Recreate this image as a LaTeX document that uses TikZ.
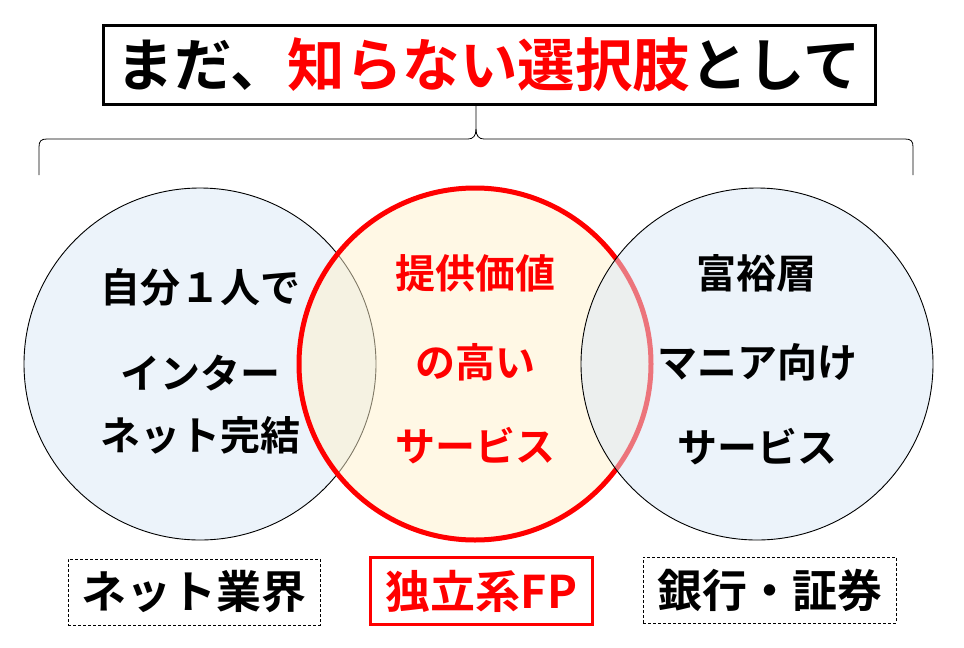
\documentclass[tikz,border=0pt]{standalone}
\usepackage{fontspec}
\newfontfamily\jp{Noto Sans CJK JP}[BoldFont={Noto Sans CJK JP Bold}]
\definecolor{myred}{HTML}{FF0000}
\definecolor{blueF}{HTML}{DAE8F7}
\definecolor{yelF}{HTML}{FFF2CC}
\begin{document}
\begin{tikzpicture}[x=1pt,y=-1pt,
  every node/.style={inner sep=0pt,outer sep=0pt},
  circtxt/.style={font=\jp\bfseries\fontsize{40}{48}\selectfont,anchor=center},
  labtxt/.style={font=\jp\bfseries\fontsize{45}{54}\selectfont,anchor=center,minimum height=66pt},
  dashbox/.style={labtxt,draw=black,line width=0.8pt,dash pattern=on 3pt off 2pt},
  sidecirc/.style={circle,minimum size=352pt,fill=blueF,fill opacity=0.5,draw=black,draw opacity=1,line width=0.9pt},
  midcirc/.style={circle,minimum size=352pt,fill=yelF,fill opacity=0.5,draw=myred,draw opacity=1,line width=5pt},
  bracestyle/.style={draw=black,line width=0.8pt}]
\useasboundingbox (0,0) rectangle (964,648);
\fill[white] (0,0) rectangle (964,648);
% title
\node[draw=black,line width=3pt,minimum width=772pt,minimum height=79pt,
  font=\jp\bfseries\fontsize{57.5}{64}\selectfont] (title) at (489,64.5)
  {まだ、\textcolor{myred}{知らない選択肢}として};
% brace
\coordinate (btip) at (476,104);
\coordinate (bl) at (39,175);
\coordinate (br) at (913,175);
\draw[bracestyle] (bl) -- (39,147) .. controls (39,141) and (41,139) .. (47,139)
  -- (468,139) .. controls (473,139) and (476,136) .. (476,129) -- (btip);
\draw[bracestyle] (br) -- (913,147) .. controls (913,141) and (911,139) .. (905,139)
  -- (484,139) .. controls (479,139) and (476,136) .. (476,129);
% circles
\node[sidecirc] (cl) at (200,364) {};
\node[midcirc] (cm) at (475,364) {};
\node[sidecirc] (cr) at (757,364) {};
% left text
\node[circtxt] (l1) at (200,287) {自分１人で};
\node[circtxt] (l2) at (200,373) {インター};
\node[circtxt] (l3) at (200,435) {ネット完結};
% middle text
\node[circtxt,text=myred] (m1) at (475,273) {提供価値};
\node[circtxt,text=myred] (m2) at (475,362) {の高い};
\node[circtxt,text=myred] (m3) at (475,446) {サービス};
% right text
\node[circtxt] (r1) at (756,273) {富裕層};
\node[circtxt] (r2) at (757,362) {マニア向け};
\node[circtxt] (r3) at (757,447) {サービス};
% bottom labels
\node[dashbox,minimum width=252pt] (bl1) at (194,592) {ネット業界};
\node[labtxt,draw=myred,line width=3pt,minimum width=222pt,minimum height=67pt,text=myred] (bl2) at (481.5,591) {独立系FP};
\node[dashbox,minimum width=253pt] (bl3) at (769.5,590) {銀行・証券};
\end{tikzpicture}
\end{document}
